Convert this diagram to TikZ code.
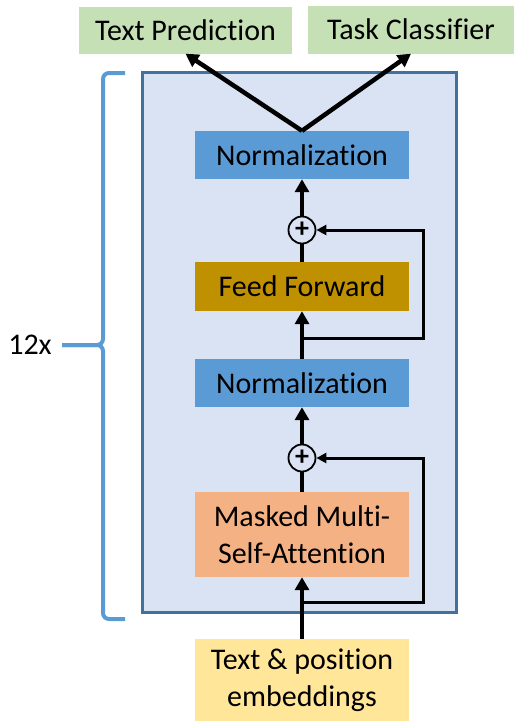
\documentclass[tikz,border=0pt]{standalone}
\usepackage{fontspec}
\setmainfont{Carlito}[Ligatures=NoCommon]
\usepackage{xcolor}
\usepackage{tikz}
\usetikzlibrary{arrows.meta}
\usetikzlibrary{positioning}

\definecolor{outgreen}{HTML}{C5E0B4}
\definecolor{blockfill}{HTML}{DAE3F3}
\definecolor{blockline}{HTML}{41719C}
\definecolor{normblue}{HTML}{5B9BD5}
\definecolor{ffgold}{HTML}{BF9000}
\definecolor{attnorange}{HTML}{F4B183}
\definecolor{embyellow}{HTML}{FFE699}

\begin{document}
\begin{tikzpicture}[x=1pt,y=-1pt,
    every node/.style={font=\fontsize{30}{37}\selectfont,inner sep=0pt},
    layer/.style={shape=rectangle,minimum width=214,minimum height=48,align=center},
    sumnode/.style={shape=circle,draw=black,fill=blockfill,line width=1.8pt,minimum size=27,font=\fontsize{28}{28}\bfseries},
    trunk/.style={line width=4.5pt,-{Triangle[length=13pt,width=14pt]}},
    link/.style={line width=4.5pt},
    skip/.style={line width=3pt,-{Triangle[length=10pt,width=10pt]}},
    bracket/.style={line width=4pt,normblue,rounded corners=6}
  ]
  \useasboundingbox (0,0) rectangle (516,721);

  % the repeated block
  \node[shape=rectangle,draw=blockline,line width=3pt,fill=blockfill,minimum width=314,minimum height=540] (blk) at (299.5,342.5) {};

  % outputs on top
  \node[layer,fill=outgreen,minimum width=213,minimum height=47] (pred) at (185.5,30) {Text Prediction};
  \node[layer,fill=outgreen,minimum width=206] (cls) at (411,29.5) {Task Classifier};

  % setup the layers
  \node[layer,fill=normblue] (norm2) at (302,155) {Normalization};
  \node[sumnode] (add1) at (302,230) {+};
  \node[layer,fill=ffgold,minimum height=49] (ff) at (302,286.5) {Feed Forward};
  \node[layer,fill=normblue] (norm1) at (302,383) {Normalization};
  \node[sumnode] (add2) at (302,458) {+};
  \node[layer,fill=attnorange,minimum height=85] (attn) at (302,534.5) {Masked Multi-\\Self-Attention};
  \node[layer,fill=embyellow,minimum height=82] (emb) at (302,680) {Text \& position\\embeddings};

  % residual taps
  \coordinate (res1) at (302,602);
  \coordinate (res2) at (302,338);

  % main path
  \draw[trunk] (emb) -- (attn);
  \draw[link] (attn) -- (add2);
  \draw[trunk] (add2) -- (norm1);
  \draw[trunk] (norm1) -- (ff);
  \draw[link] (ff) -- (add1);
  \draw[trunk] (add1) -- (norm2);
  \draw[trunk] (norm2.north) -- (pred.south);
  \draw[trunk] (norm2.north) -- (cls.south);

  % skip connections
  \draw[skip] (res1) -- ++(121,0) |- (add2.east);
  \draw[skip] (res2) -- ++(121,0) |- (add1.east);

  % the brace and its label
  \node (rep) at (30,345) {12x};
  \coordinate (tip) at (62,345);
  \draw[bracket] (125,73) -- (103,73) -- (103,345) -- (tip);
  \draw[bracket] (125,619) -- (103,619) -- (103,345) -- (tip);

\end{tikzpicture}
\end{document}
